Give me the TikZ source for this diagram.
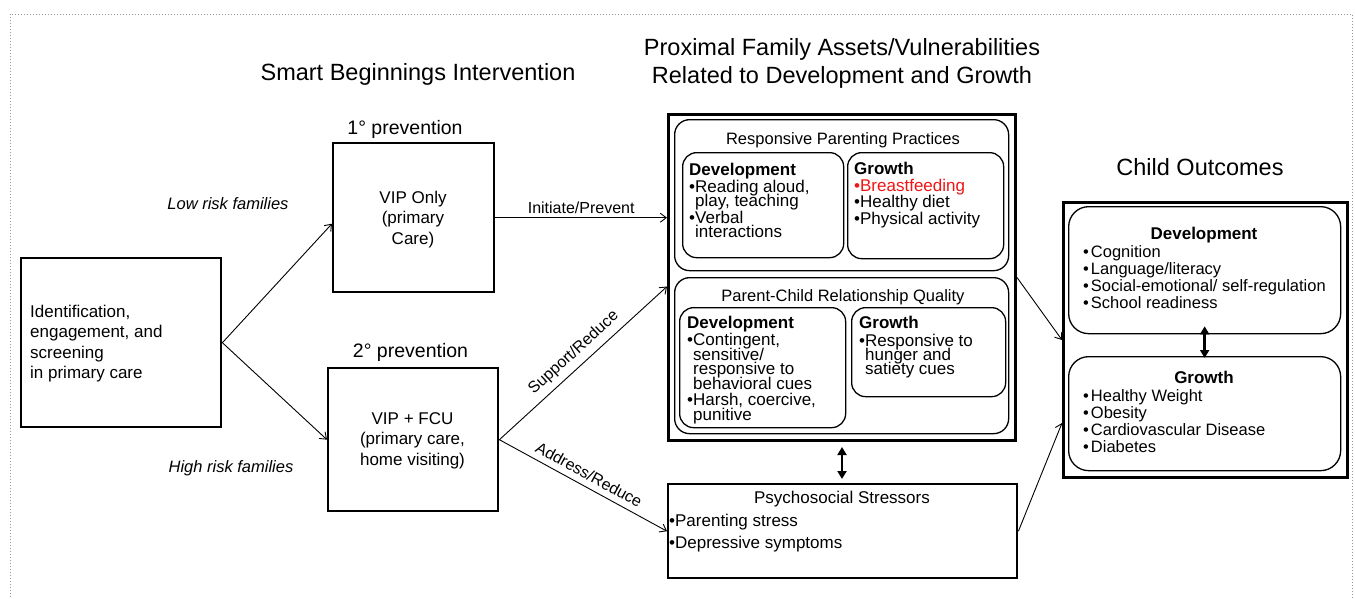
\documentclass[tikz,border=0pt]{standalone}
\usepackage{fontspec}
\setmainfont{Liberation Sans}
\usetikzlibrary{arrows.meta,calc}
\definecolor{bordergray}{RGB}{150,150,150}
\definecolor{bfred}{RGB}{240,20,20}
\normallineskiplimit=-50pt
\lineskiplimit=-50pt
\newcommand\fsz[2]{\fontsize{#1}{#2}\selectfont}
\begin{document}
\begin{tikzpicture}[x=1pt,y=-1pt,
  sqbox/.style={draw, line width=2.4pt, inner sep=0pt, anchor=north west},
  thickbox/.style={draw, line width=3pt, inner sep=0pt, anchor=north west},
  rbox/.style={draw, line width=1.3pt, rounded corners=15pt, inner sep=0pt, anchor=north west},
  txt/.style={inner sep=0pt, anchor=base west, font=\fsz{17}{14}},
  ctxt/.style={inner sep=0pt, anchor=base, font=\fsz{17}{20.5}},
  ttl/.style={inner sep=0pt, anchor=base, font=\fsz{23.5}{28}},
  lbl/.style={inner sep=0pt, font=\fsz{16}{16}},
  arr/.style={line width=0.9pt, -{Straight Barb[length=6pt,width=9pt]}},
  dbl/.style={line width=2.6pt, {Triangle[length=8pt,width=9pt]}-{Triangle[length=8pt,width=9pt]}},
]
\useasboundingbox (0,0) rectangle (1355,598);
\draw[bordergray, dotted, line width=1pt] (10,14) rectangle (1352,640);

% titles
\node[ttl] (ttlA) at (418,80) {Smart Beginnings Intervention};
\node[ttl] (ttlB) at (842,55) {\parbox[t]{500pt}{\centering Proximal Family Assets/Vulnerabilities\\Related to Development and Growth}};
\node[ttl] (ttlC) at (1200,175) {Child Outcomes};
\node[inner sep=0pt, anchor=base, font=\fsz{19.5}{20}] (prevA) at (405,134) {1° prevention};
\node[inner sep=0pt, anchor=base, font=\fsz{19.5}{20}] (prevB) at (410.5,357) {2° prevention};
\node[inner sep=0pt, anchor=base, font=\itshape\fsz{16.5}{17}] (low) at (228,209) {Low risk families};
\node[inner sep=0pt, anchor=base, font=\itshape\fsz{16.5}{17}] (high) at (231,472) {High risk families};

% left boxes
\node[sqbox, minimum width=200pt, minimum height=169pt] (ident) at (20,257) {};
\node[txt, font=\fsz{17}{20.5}] (identtxt) at (30,317) {\parbox[t]{185pt}{\raggedright Identification,\\engagement, and\\screening\\in primary care}};
\node[sqbox, minimum width=161pt, minimum height=149pt] (vipA) at (332,142) {};
\node[ctxt] (vipAtxt) at (413,203) {\parbox[t]{150pt}{\centering VIP Only\\(primary\\Care)}};
\node[sqbox, minimum width=170pt, minimum height=143pt] (vipB) at (327,367) {};
\node[ctxt] (vipBtxt) at (412.5,424) {\parbox[t]{160pt}{\centering VIP + FCU\\(primary care,\\home visiting)}};

% proximal box
\node[thickbox, minimum width=347pt, minimum height=326pt] (prox) at (667,113) {};
\node[rbox, minimum width=334pt, minimum height=151pt] (rpp) at (674,119) {};
\node[inner sep=0pt, anchor=base, font=\fsz{16.5}{17}] (rpptitle) at (843,144) {Responsive Parenting Practices};
\node[rbox, rounded corners=14pt, minimum width=161pt, minimum height=105pt] (rppd) at (682,152) {};
\node[rbox, rounded corners=14pt, minimum width=156pt, minimum height=106pt] (rppg) at (847,152) {};
\node[txt] (rppdtxt) at (689,175) {\parbox[t]{155pt}{\raggedright {\bfseries Development}\\[3pt]•Reading aloud,\\\phantom{•}play, teaching\\[3pt]•Verbal\\\phantom{•}interactions}};
\node[txt] (rppgtxt) at (854,174) {\parbox[t]{150pt}{\raggedright {\bfseries Growth}\\[3pt]{\color{bfred}•Breastfeeding}\\[2.5pt]•Healthy diet\\[3pt]•Physical activity}};

\node[rbox, minimum width=334pt, minimum height=156pt] (pcrq) at (674,277) {};
\node[inner sep=0pt, anchor=base, font=\fsz{16.5}{17}] (pcrqtitle) at (843,301) {Parent-Child Relationship Quality};
\node[rbox, rounded corners=14pt, minimum width=166pt, minimum height=120pt] (pcrqd) at (679,307) {};
\node[rbox, rounded corners=14pt, minimum width=154pt, minimum height=89pt] (pcrqg) at (851,307) {};
\node[txt, font=\fsz{17}{14.5}] (pcrqdtxt) at (687,328) {\parbox[t]{160pt}{\raggedright {\bfseries Development}\\[3pt]•Contingent,\\\phantom{•}sensitive/\\\phantom{•}responsive to\\\phantom{•}behavioral cues\\[2pt]•Harsh, coercive,\\\phantom{•}punitive}};
\node[txt] (pcrqgtxt) at (859,328) {\parbox[t]{150pt}{\raggedright {\bfseries Growth}\\[4pt]•Responsive to\\\phantom{•}hunger and\\\phantom{•}satiety cues}};

% psychosocial
\node[sqbox, minimum width=349pt, minimum height=94pt] (psy) at (667,483) {};
\node[inner sep=0pt, anchor=base, font=\fsz{17}{17}] (psytitle) at (842,503) {Psychosocial Stressors};
\node[txt] (psytxt) at (669,526) {\parbox[t]{300pt}{\raggedright •Parenting stress\\[8.5pt]•Depressive symptoms}};

% child outcomes
\node[thickbox, minimum width=284pt, minimum height=275pt] (child) at (1062,201) {};
\node[rbox, rounded corners=20pt, minimum width=272pt, minimum height=127pt] (cd) at (1068,206) {};
\node[rbox, rounded corners=20pt, minimum width=272pt, minimum height=114pt] (cg) at (1068,356) {};
\node[inner sep=0pt, anchor=base, font=\bfseries\fsz{17}{17}] (cdtitle) at (1204,239) {Development};
\node[txt, font=\fsz{16.5}{14}] (cdtxt) at (1083,257.5) {\parbox[t]{255pt}{\raggedright •\hspace{2pt}Cognition\\[3pt]•\hspace{2pt}Language/literacy\\[3pt]•\hspace{2pt}Social-emotional/ self-regulation\\[3pt]•\hspace{2pt}School readiness}};
\node[inner sep=0pt, anchor=base, font=\bfseries\fsz{17}{17}] (cgtitle) at (1204,383) {Growth};
\node[txt, font=\fsz{16.5}{14}] (cgtxt) at (1083,401) {\parbox[t]{255pt}{\raggedright •\hspace{2pt}Healthy Weight\\[3pt]•\hspace{2pt}Obesity\\[3pt]•\hspace{2pt}Cardiovascular Disease\\[3pt]•\hspace{2pt}Diabetes}};

% connectors
\draw[arr] (ident.east) -- ($(vipA.west)+(0,6)$);
\draw[arr] (ident.east) -- (vipB.west);
\draw[arr] (vipA.east) -- (vipA.east -| prox.west) node[lbl, pos=0.5, anchor=base, yshift=4pt] (linit) {Initiate/Prevent};
\draw[arr] (vipB.east) -- ($(prox.west)+(0,9)$) node[lbl, midway, sloped, above=6pt] (lsup) {Support/Reduce};
\draw[arr] (vipB.east) -- (psy.west) node[lbl, midway, sloped, above=6pt] (ladd) {Address/Reduce};
\draw[arr] (prox.east) -- (child.west);
\draw[arr] (psy.east) -- ($(child.west)+(0,83)$);
\draw[dbl, shorten <=5pt, shorten >=4pt] (prox.south) -- (prox.south |- psy.north);
\draw[dbl, shorten <=-8pt, shorten >=-2pt] (cd.south) -- (cg.north);
\end{tikzpicture}
\end{document}
